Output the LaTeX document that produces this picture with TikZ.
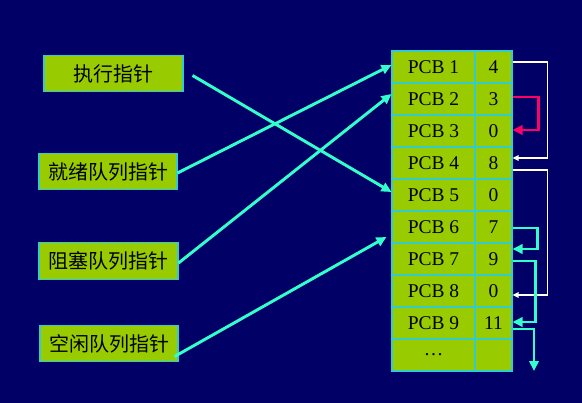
\documentclass[tikz,border=0pt]{standalone}
\usepackage{fontspec}
\setmainfont{Liberation Serif}
\newfontfamily\cjk{Noto Sans CJK SC}
\usetikzlibrary{arrows.meta,calc}
\definecolor{bgnavy}{HTML}{000066}
\definecolor{boxgreen}{HTML}{99CC00}
\definecolor{boxedge}{HTML}{33CCCC}
\definecolor{linecyan}{HTML}{33FFCC}
\definecolor{linered}{HTML}{FF0066}
\tikzset{
  ptrbox/.style={draw=boxedge, line width=0.8pt, fill=boxgreen, inner sep=0pt,
    minimum height=27.5pt, font=\cjk\fontsize{15}{16}\selectfont, text=black},
  namecell/.style={draw=boxedge, line width=0.8pt, fill=boxgreen, inner sep=0pt,
    minimum width=62.25pt, minimum height=24pt, font=\fontsize{14.6}{16}\selectfont, text=black},
  nextcell/.style={draw=boxedge, line width=0.8pt, fill=boxgreen, inner sep=0pt,
    minimum width=27.75pt, minimum height=24pt, font=\fontsize{14.6}{16}\selectfont, text=black},
  cyanarrow/.style={draw=linecyan, line width=2.2pt, -{Triangle[length=7.5pt,width=7pt]}},
  redarrow/.style={draw=linered, line width=2.2pt, -{Triangle[length=7.5pt,width=7pt]}},
  whitearrow/.style={draw=white, line width=1.2pt, -{Triangle[length=4.5pt,width=4pt]}},
}
\begin{document}
\begin{tikzpicture}[x=0.75pt,y=-0.75pt]
\fill[bgnavy] (0,0) rectangle (582,403);
\useasboundingbox (0,0) rectangle (582,403);
% pointer boxes
\node[ptrbox, minimum width=104.25pt] (exe) at (113.5,73.5) {执行指针};
\node[ptrbox, minimum width=103.5pt] (ready) at (108,171.5) {就绪队列指针};
\node[ptrbox, minimum width=104.25pt] (block) at (108.5,261) {阻塞队列指针};
\node[ptrbox, minimum width=103.5pt] (free) at (109,343.5) {空闲队列指针};
% table
\foreach \i/\lab/\nx in {1/PCB 1/4, 2/PCB 2/3, 3/PCB 3/0, 4/PCB 4/8, 5/PCB 5/0,
                        6/PCB 6/7, 7/PCB 7/9, 8/PCB 8/0, 9/PCB 9/11, 10/\ldots/{}} {
  \node[namecell] (p\i) at (433.5,{67+32*(\i-1)}) {\lab};
  \node[nextcell] (n\i) at (493.5,{67+32*(\i-1)}) {\nx};
}
% left arrows
\draw[cyanarrow] ($(exe.east)+(9,2)$) -- ($(p5.west)+(0,-3)$);
\draw[cyanarrow] ($(ready.east)+(0,1.5)$) -- ($(p1.west)+(0,-2)$);
\draw[cyanarrow] ($(block.east)+(0,2)$) -- ($(p2.west)+(0,-5)$);
\draw[cyanarrow] ($(free.east)+(-4,13)$) -- ($(p7.west)+(-5,-22)$);
% right links
\draw[whitearrow] ($(n1.east)+(0,-5)$) -- ++(35,0) |- ($(n4.east)+(0,-5)$);
\draw[redarrow] ($(n2.east)+(0,-2)$) -- ++(26,0) |- ($(n3.east)+(0,-1)$);
\draw[whitearrow] ($(n4.east)+(0,7)$) -- ++(35,0) |- ($(n8.east)+(0,4)$);
\draw[cyanarrow] ($(n6.east)+(0,1)$) -- ++(25,0) |- ($(n7.east)+(0,-10)$);
\draw[cyanarrow] ($(n7.east)+(0,2)$) -- ++(23,0) |- ($(n9.east)+(0,-1)$);
\coordinate (tailend) at (534,371);
\draw[cyanarrow] ($(n9.east)+(0,6)$) -| (tailend);
\end{tikzpicture}
\end{document}
